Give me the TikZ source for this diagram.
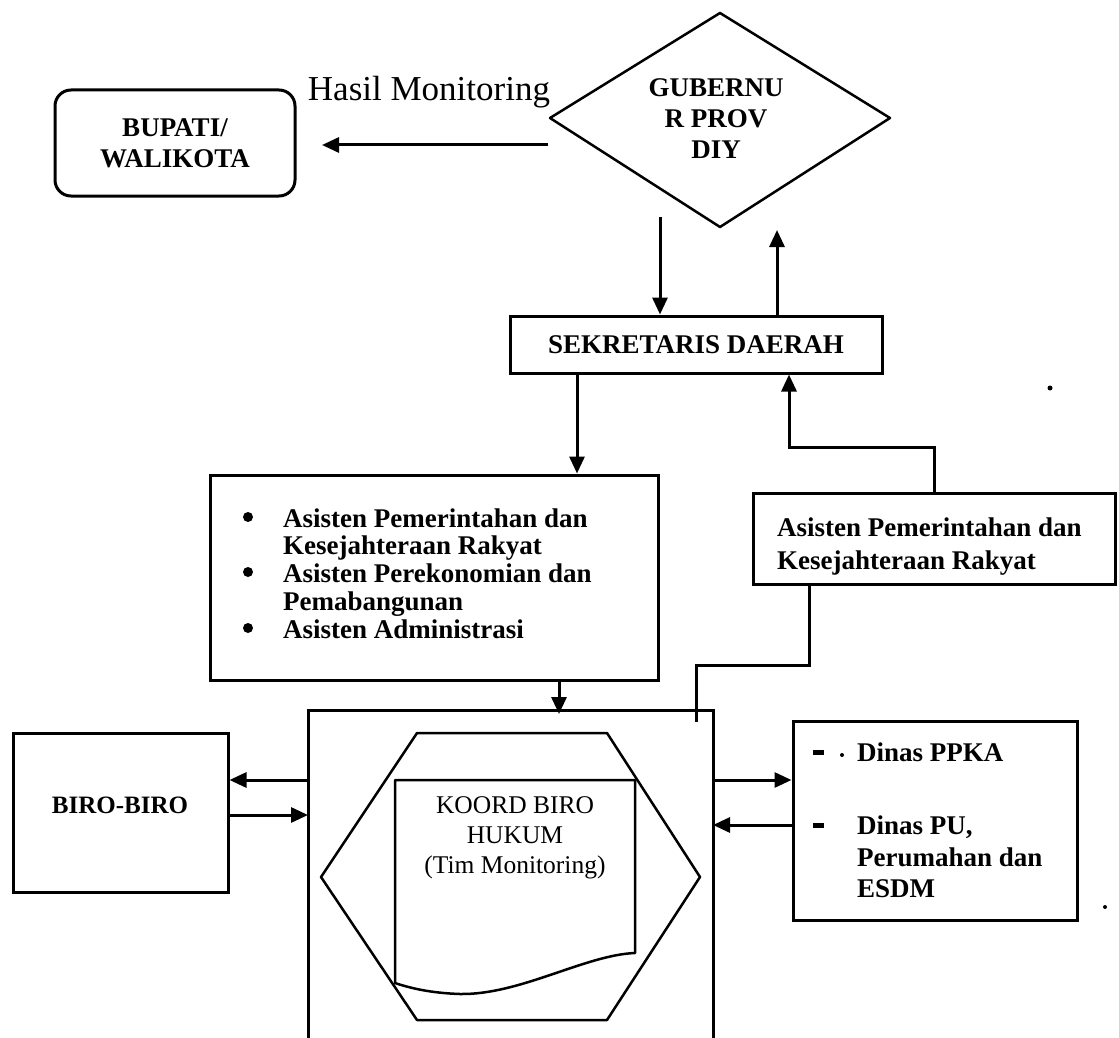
\documentclass[tikz,border=0pt]{standalone}
\usepackage{fontspec}
\setmainfont{Liberation Serif}
\usetikzlibrary{arrows.meta}
\begin{document}
\begin{tikzpicture}[x=1pt,y=-1pt]
\tikzset{
  box/.style={draw, line width=3pt, inner sep=0pt},
  thin/.style={line width=2.5pt, line join=round},
  conn/.style={line width=3pt},
  arr/.style={conn, -{Triangle[length=17pt,width=15pt]}},
  bt/.style={font=\bfseries\fontsize{27}{31}\selectfont, align=center, inner sep=0pt},
  lt/.style={font=\bfseries\fontsize{27}{28}\selectfont, anchor=base west, inner sep=0pt},
}
\useasboundingbox (0,0) rectangle (1119,1038);

% Bupati / Walikota
\node[box, rounded corners=16pt, minimum width=240pt, minimum height=106pt, bt] (bupati) at (175,143) {BUPATI/\\WALIKOTA};

% Hasil Monitoring label and arrow
\node[font=\fontsize{35}{40}\selectfont, inner sep=0pt] (hasil) at (429,92) {Hasil Monitoring};
\coordinate (h1) at (548,145);
\coordinate (h2) at (322,145);
\draw[arr] (h1) -- (h2);

% Gubernur diamond
\coordinate (dl) at (550,118);
\coordinate (dtop) at (720,13);
\coordinate (dr) at (890,118);
\coordinate (db) at (720,227);
\draw[thin] (dl) -- (dtop) -- (dr) -- (db) -- cycle;
\node[bt] (gub) at (716,119) {GUBERNU\\R PROV\\DIY};

% Sekretaris Daerah
\node[box, minimum width=372pt, minimum height=57pt, bt] (sek) at (696,344.5) {SEKRETARIS DAERAH};
\coordinate (g1) at (660,217);
\draw[arr] (g1) -- (g1 |- sek.north);
\coordinate (g2) at (777,230);
\draw[arr] (g2 |- sek.north) -- (g2);

% Left Asisten box
\node[box, minimum width=448pt, minimum height=205pt] (asl) at (434,577.5) {};
\coordinate (s1) at (577,0);
\draw[arr] (s1 |- sek.south) -- (s1 |- asl.north);
\fill (248,517) circle (5pt);
\fill (248,572) circle (5pt);
\fill (248,628) circle (5pt);
\node[lt] (asl1) at (283,527) {Asisten Pemerintahan dan};
\node[lt] (asl2) at (283,554) {Kesejahteraan Rakyat};
\node[lt] (asl3) at (283,582) {Asisten Perekonomian dan};
\node[lt] (asl4) at (283,610) {Pemabangunan};
\node[lt] (asl5) at (283,638) {Asisten Administrasi};

% Right Asisten box
\node[box, minimum width=362pt, minimum height=91pt] (asr) at (934,538.5) {};
\node[lt] (asr1) at (777,536) {Asisten Pemerintahan dan};
\node[lt] (asr2) at (777,569) {Kesejahteraan Rakyat};
\coordinate (j1) at (789,447);
\draw[arr] (asr.north) |- (j1) -- (j1 |- sek.south);

% Big open box
\coordinate (bb1) at (308,1038);
\coordinate (bb2) at (308,710);
\coordinate (bb3) at (713,710);
\coordinate (bb4) at (713,1038);
\draw[conn] (bb1) -- (bb2) -- (bb3) -- (bb4);
\coordinate (a1) at (559,714);
\draw[arr] (a1 |- asl.south) -- (a1);

% connector from right Asisten down into big box
\coordinate (j2) at (809,665);
\coordinate (j3) at (696,722);
\draw[conn] (j2 |- asr.south) -- (j2) -| (j3);

% Hexagon
\draw[thin] (321,877) -- (417,733) -- (607,733) -- (700,877) -- (607,1020) -- (417,1020) -- cycle;

% Document shape
\draw[thin] (395,780) -- (635,780) -- (635,953)
  .. controls (585,955) and (520,995) .. (460,994)
  .. controls (430,993) and (410,988) .. (395,983) -- cycle;
\node[font=\fontsize{25.5}{30}\selectfont, align=center, inner sep=0pt] (koord) at (515,838) {KOORD BIRO\\HUKUM\\(Tim Monitoring)};

% Biro-biro
\node[box, minimum width=215pt, minimum height=159pt] (biro) at (120.5,812.5) {};
\node[font=\bfseries\fontsize{25}{28}\selectfont, inner sep=0pt] (birotxt) at (120,805) {BIRO-BIRO};
\coordinate (bl1) at (308,780);
\draw[arr] (bl1) -- (bl1 -| biro.east);
\coordinate (bl2) at (308,815);
\draw[arr] (bl2 -| biro.east) -- (bl2);

% Dinas box
\node[box, minimum width=284pt, minimum height=199pt] (dinas) at (935,820.5) {};
\coordinate (br1) at (713,780);
\draw[arr] (br1) -- (br1 -| dinas.west);
\coordinate (br2) at (713,825);
\draw[arr] (br2 -| dinas.west) -- (br2);
\fill (813,750) rectangle (824,755);
\fill (842,755) circle (2pt);
\node[lt] (dn1) at (857,761) {Dinas PPKA};
\fill (813,823) rectangle (824,828);
\node[lt] (dn2) at (857,834) {Dinas PU,};
\node[lt] (dn3) at (857,866) {Perumahan dan};
\node[lt] (dn4) at (857,897) {ESDM};

% stray marks
\fill (1050,388) circle (2.5pt);
\fill (1105,907) circle (2pt);
\end{tikzpicture}
\end{document}
